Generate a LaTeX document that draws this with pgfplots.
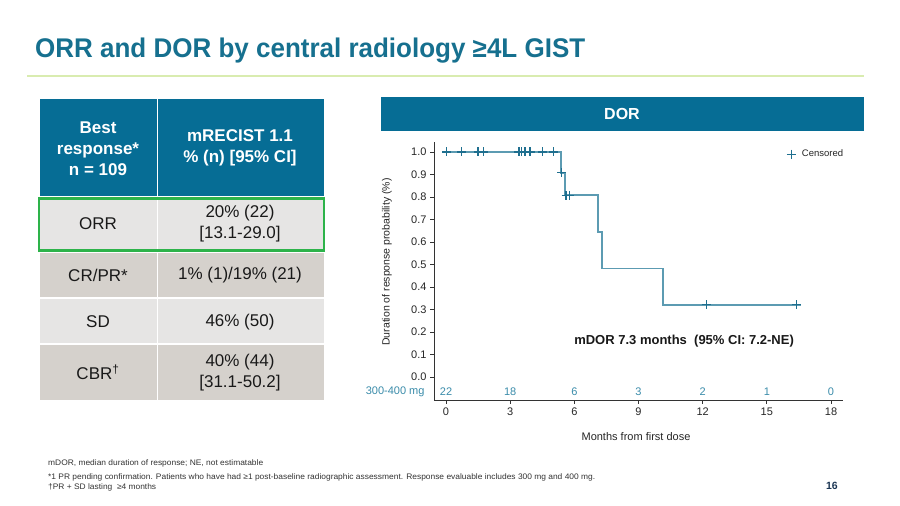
\documentclass[border=0pt]{standalone}
\usepackage{pgfplots}
\pgfplotsset{compat=1.18}
\usepackage{graphicx}
\usepackage{fontspec}
\setmainfont{Liberation Sans}
\definecolor{hdr}{HTML}{066D95}
\definecolor{titlecol}{HTML}{16708F}
\definecolor{rowlight}{HTML}{E6E5E4}
\definecolor{rowdark}{HTML}{D5D1CC}
\definecolor{grn}{HTML}{2DB34A}
\definecolor{rulecol}{HTML}{D9ECB0}
\definecolor{curvecol}{HTML}{5C9BB2}
\definecolor{markcol}{HTML}{1F6F8F}
\definecolor{riskcol}{HTML}{3A8CAA}
\definecolor{foot}{HTML}{333333}
\definecolor{pagecol}{HTML}{1B3553}
\begin{document}
\begin{tikzpicture}
\begin{scope}[x=1pt,y=1pt]
\fill[white] (0,0) rectangle (900,506);
% title
\node[anchor=base west, inner sep=0, text=titlecol, font=\fontsize{27}{30}\selectfont\bfseries] at (35,448) {\resizebox{550pt}{\height}{ORR and DOR by central radiology ≥4L GIST}};
\draw[rulecol, line width=1.5pt] (27,430) -- (864,430);
% table
\fill[hdr] (39.5,407) rectangle (323.5,310);
\fill[rowlight] (39.5,307.5) rectangle (323.5,255.5);
\fill[rowdark] (39.5,252.5) rectangle (323.5,208.5);
\fill[rowlight] (39.5,206.5) rectangle (323.5,162.5);
\fill[rowdark] (39.5,160.5) rectangle (323.5,106);
\draw[white, line width=1pt] (157.5,106) -- (157.5,407);
\draw[grn, line width=2.5pt] (39,307.5) rectangle (324,255.5);
\node[align=center, text=white, font=\fontsize{17}{21}\selectfont\bfseries] at (98,357) {Best\\response*\\n = 109};
\node[align=center, text=white, font=\fontsize{17}{21}\selectfont\bfseries] at (240,358) {mRECIST 1.1\\\% (n) [95\% CI]};
\begin{scope}[every node/.style={text=black!90, font=\fontsize{17}{21}\selectfont, align=center}]
\node at (98,282) {ORR};
\node at (240,282) {20\% (22)\\{}[13.1-29.0]};
\node at (98,231) {CR/PR*};
\node at (240,231) {1\% (1)/19\% (21)};
\node at (98,184) {SD};
\node at (240,184) {46\% (50)};
\node at (98,134) {CBR\textsuperscript{†}};
\node at (240,133) {40\% (44)\\{}[31.1-50.2]};
\end{scope}
% DOR banner
\fill[hdr] (381,409) rectangle (864,375);
\node[text=white, font=\fontsize{16}{18}\selectfont\bfseries] at (622,392) {DOR};
% axis labels
\node[rotate=90, font=\fontsize{10.5}{12}\selectfont, text=black!85] at (387,244) {Duration of response probability (\%)};
\node[font=\fontsize{11}{13}\selectfont, text=black!85] at (636,69) {Months from first dose};
% footnotes
\node[anchor=base west, inner sep=0, text=foot, font=\fontsize{8}{9}\selectfont] at (48,40) {\resizebox{215pt}{\height}{mDOR, median duration of response; NE, not estimatable}};
\node[anchor=base west, inner sep=0, text=foot, font=\fontsize{8}{9}\selectfont] at (48,26) {\resizebox{547pt}{\height}{*1 PR pending confirmation. Patients who have had ≥1 post-baseline radiographic assessment. Response evaluable includes 300 mg and 400 mg.}};
\node[anchor=base west, inner sep=0, text=foot, font=\fontsize{8}{9}\selectfont] at (48,16) {\resizebox{108pt}{\height}{†PR + SD lasting\ \ ≥4 months}};
\node[anchor=base east, inner sep=0, text=pagecol, font=\fontsize{10.5}{12}\selectfont\bfseries] at (838,16) {16};
\end{scope}
\begin{axis}[
  at={(434pt,106pt)}, anchor=south west,
  scale only axis, width=409pt, height=258pt,
  xmin=-0.561, xmax=18.56, ymin=-0.102, ymax=1.044,
  axis x line*=bottom, axis y line*=left,
  axis line style={-, black!80, line width=0.9pt},
  tick align=outside, major tick length=4pt,
  tick style={black!80, line width=0.8pt},
  xtick={0,3,6,9,12,15,18},
  ytick={0,0.1,0.2,0.3,0.4,0.5,0.6,0.7,0.8,0.9,1},
  yticklabel style={/pgf/number format/.cd, fixed, fixed zerofill, precision=1},
  /pgf/number format/assume math mode=true,
  ticklabel style={font=\fontsize{11}{12}\selectfont, text=black!85},
  clip=false,
  legend style={at={(0.855,0.953)}, anchor=west, draw=none, fill=none, font=\fontsize{9.5}{11}\selectfont, text=black!85},
  legend cell align=left,
]
\addplot[curvecol, line width=1.9pt, forget plot] coordinates {
 (0,1) (5.38,1) (5.38,0.908) (5.56,0.908) (5.56,0.807) (7.10,0.807) (7.10,0.644) (7.28,0.644) (7.28,0.482) (10.16,0.482) (10.16,0.321) (16.58,0.321)};
\addplot[only marks, mark=+, mark size=4.5pt, markcol, line width=1.2pt] coordinates {
 (0.03,1) (0.73,1) (1.5,1) (1.74,1) (3.41,1) (3.54,1) (3.69,1) (3.93,1) (4.5,1) (5.02,1)
 (5.41,0.908) (5.61,0.807) (5.76,0.807) (12.16,0.321) (16.4,0.321)};
\addlegendentry{\hspace*{4pt}Censored}
\node[anchor=east, text=riskcol, font=\fontsize{11}{12}\selectfont] at (axis cs:-0.84,-0.067) {300-400 mg};
\node[text=riskcol, font=\fontsize{11}{12}\selectfont] at (axis cs:0,-0.067) {22};
\node[text=riskcol, font=\fontsize{11}{12}\selectfont] at (axis cs:3,-0.067) {18};
\node[text=riskcol, font=\fontsize{11}{12}\selectfont] at (axis cs:6,-0.067) {6};
\node[text=riskcol, font=\fontsize{11}{12}\selectfont] at (axis cs:9,-0.067) {3};
\node[text=riskcol, font=\fontsize{11}{12}\selectfont] at (axis cs:12,-0.067) {2};
\node[text=riskcol, font=\fontsize{11}{12}\selectfont] at (axis cs:15,-0.067) {1};
\node[text=riskcol, font=\fontsize{11}{12}\selectfont] at (axis cs:18,-0.067) {0};
\node[font=\fontsize{13}{15}\selectfont\bfseries, text=black!90] at (axis cs:11.13,0.16) {mDOR 7.3 months\ \ (95\% CI: 7.2-NE)};
\end{axis}
\end{tikzpicture}
\end{document}
